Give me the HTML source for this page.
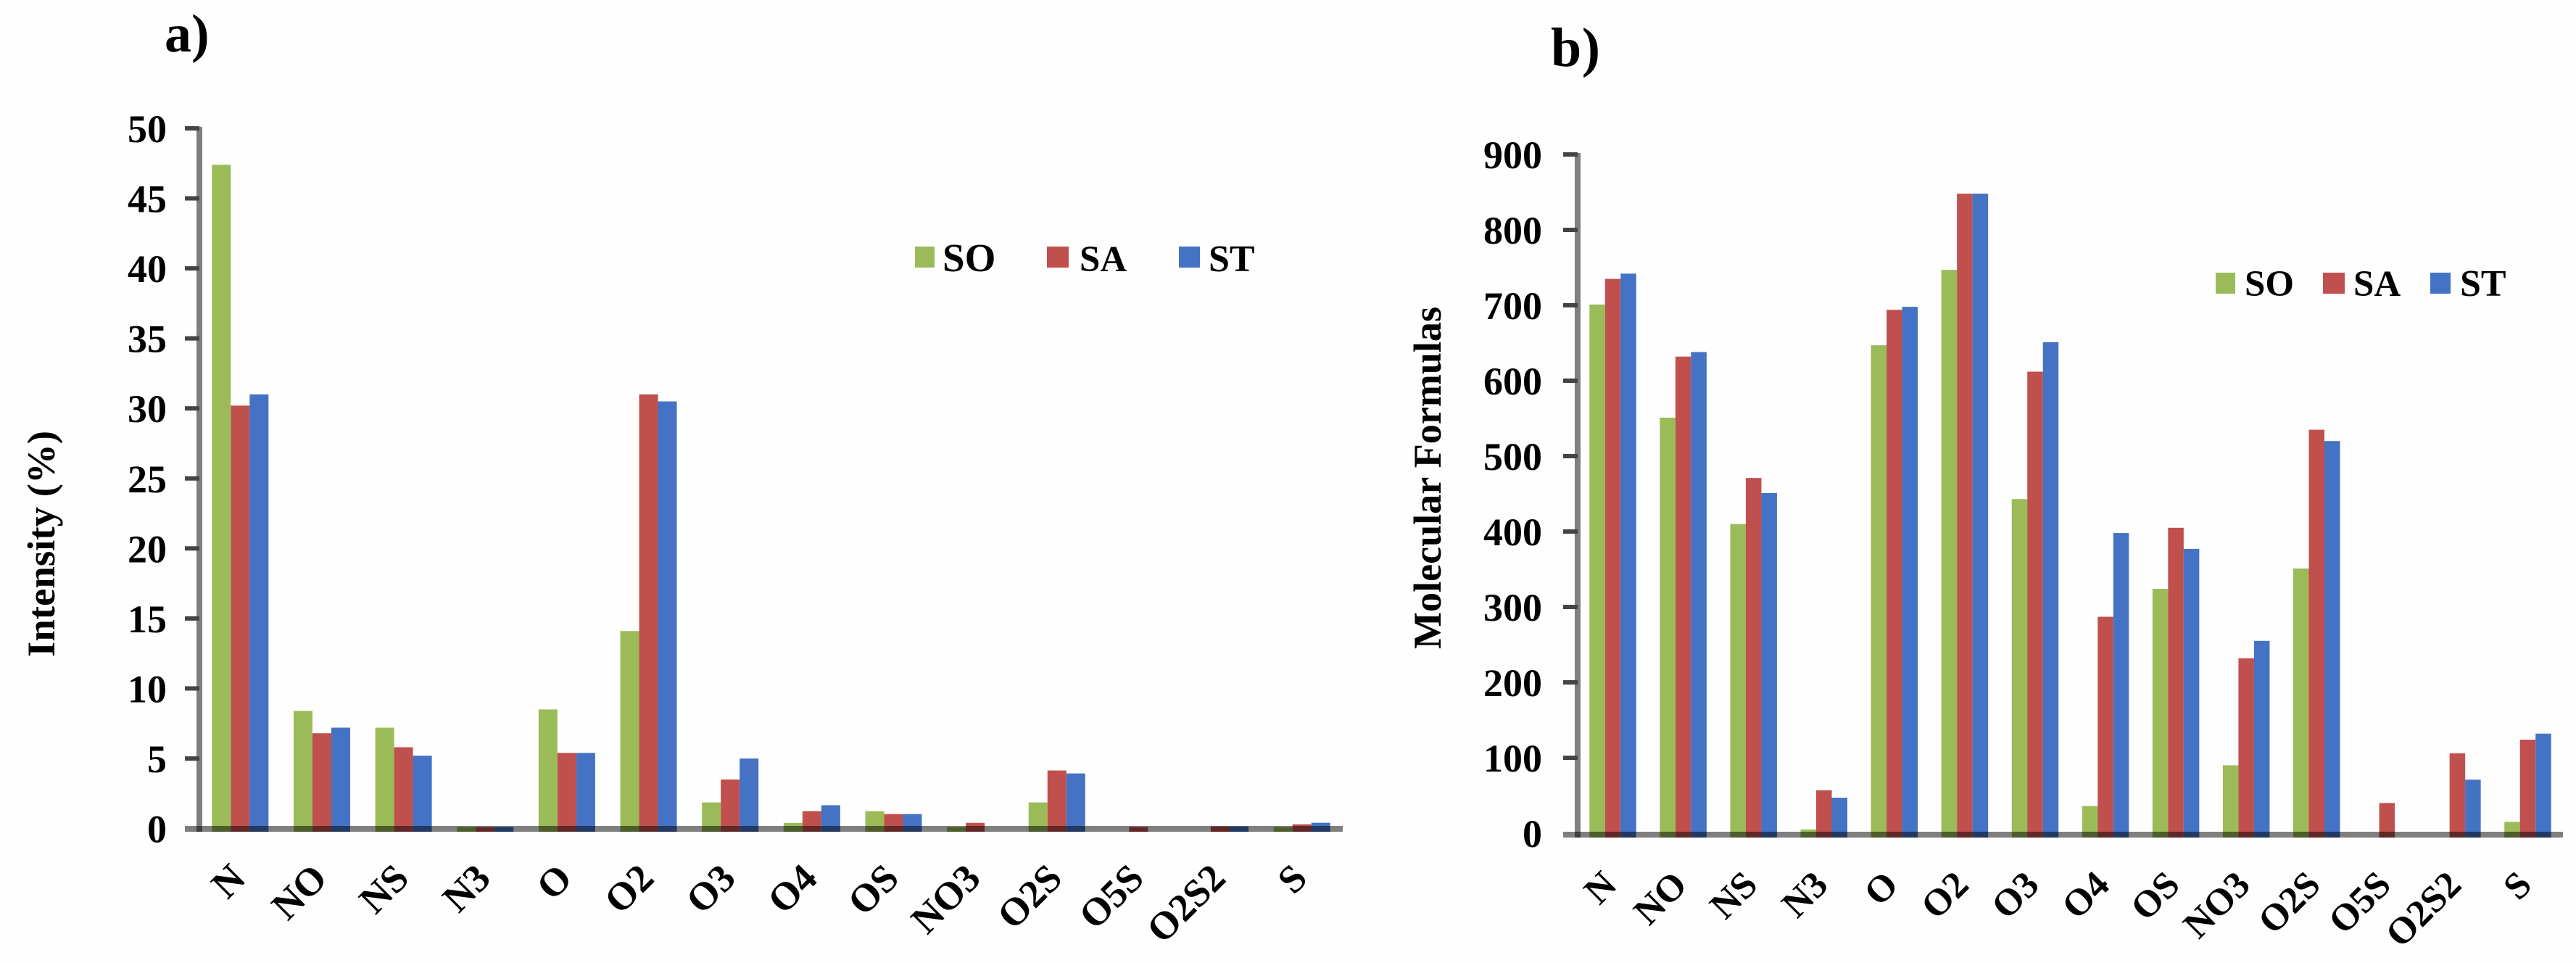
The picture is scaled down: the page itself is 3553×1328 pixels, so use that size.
<!DOCTYPE html>
<html lang="en">
<head>
<meta charset="utf-8">
<title>Intensity and molecular formulas by compound class</title>
<style>
html,body{margin:0;padding:0;background:#fefefe;}
#figure{display:block;width:3553px;height:1328px;}
text{font-family:"Liberation Serif","Times New Roman",serif;font-weight:bold;fill:#000;}
</style>
</head>
<body>
<svg id="figure" xmlns="http://www.w3.org/2000/svg" width="3553" height="1328" viewBox="0 0 3553 1328">
  <rect x="0" y="0" width="3553" height="1328" fill="#fefefe"/>
  <text x="227" y="71" font-size="74">a)</text>
  <text x="2139" y="91" font-size="76" textLength="68" lengthAdjust="spacing">b)</text>
  <text transform="translate(75 906) rotate(-90)" font-size="54" textLength="312" lengthAdjust="spacingAndGlyphs">Intensity (%)</text>
  <text transform="translate(1987 895) rotate(-90)" font-size="54" textLength="472" lengthAdjust="spacingAndGlyphs">Molecular Formulas</text>

  <g>
    <g>
      <rect x="1262" y="340" width="27" height="29" fill="#9BBB59"/>
      <text x="1300" y="374" font-size="55">SO</text>
    </g>
    <g>
      <rect x="1444" y="340" width="30" height="29" fill="#C0504D"/>
      <text x="1489" y="374" font-size="51">SA</text>
    </g>
    <g>
      <rect x="1626" y="340" width="29" height="29" fill="#4472C4"/>
      <text x="1667" y="374" font-size="52">ST</text>
    </g>
  </g>
  <g>
    <g>
      <rect x="3056" y="376" width="27" height="29" fill="#9BBB59"/>
      <text x="3096" y="408" font-size="51">SO</text>
    </g>
    <g>
      <rect x="3204" y="376" width="30" height="29" fill="#C0504D"/>
      <text x="3246" y="408" font-size="51">SA</text>
    </g>
    <g>
      <rect x="3352" y="376" width="28" height="29" fill="#4472C4"/>
      <text x="3393" y="408" font-size="52">ST</text>
    </g>
  </g>

  <g id="chart-a"></g>
  <g id="chart-b"></g>
</svg>

<script>
const categories = ['N','NO','NS','N3','O','O2','O3','O4','OS','NO3','O2S','O5S','O2S2','S'];
const seriesNames = ['SO','SA','ST'];

const intensitySO = [47.4, 8.4, 7.2, 0.1, 8.5, 14.1, 1.86, 0.4, 1.24, 0.1, 1.86, 0, 0, 0.1];
const intensitySA = [30.2, 6.8, 5.8, 0.1, 5.4, 31.0, 3.5, 1.24, 1.03, 0.4, 4.14, 0.1, 0.15, 0.3];
const intensityST = [31.0, 7.2, 5.2, 0.1, 5.4, 30.5, 5.0, 1.66, 1.03, 0, 3.93, 0, 0.15, 0.41];
const intensityTicks = [0,5,10,15,20,25,30,35,40,45,50];

const formulasSO = [701, 551, 410, 5, 647, 747, 443, 36, 324, 90, 351, 0, 0, 15];
const formulasSA = [735, 632, 471, 57, 694, 848, 612, 287, 405, 232, 535, 40, 106, 124];
const formulasST = [742, 638, 451, 47, 698, 848, 651, 398, 377, 255, 520, 0, 71, 132];
const formulasTicks = [0,100,200,300,400,500,600,700,800,900];

const seriesColors = ['#9BBB59','#C0504D','#4472C4'];
const SVG_NS = 'http://www.w3.org/2000/svg';

function drawChart(groupId, prefix, seriesValues, ticks, layout) {
  const group = document.getElementById(groupId);
  const yMax = ticks[ticks.length - 1];
  const yScale = function (v) { return layout.y0 - (layout.y0 - layout.yTop) * v / yMax; };
  const step = (layout.xEnd - layout.xAxis) / categories.length;
  const xCenter = function (i) { return layout.xAxis + step * (i + 0.5); };

  seriesValues.forEach(function (values, s) {
    values.forEach(function (v, i) {
      if (v <= 0) return;
      const bar = document.createElementNS(SVG_NS, 'rect');
      
      
      const top = yScale(v);
      bar.setAttribute('x', xCenter(i) + (s - 1.5) * layout.barWidth);
      bar.setAttribute('y', top);
      bar.setAttribute('width', layout.barWidth);
      bar.setAttribute('height', layout.base - top);
      bar.setAttribute('fill', seriesColors[s]);
      group.appendChild(bar);
    });
  });

  const yAxis = document.createElementNS(SVG_NS, 'rect');
  
  
  yAxis.setAttribute('x', layout.xAxis - 4);
  yAxis.setAttribute('y', layout.yTop - 2);
  yAxis.setAttribute('width', 8);
  yAxis.setAttribute('height', layout.base - layout.yTop + 2);
  yAxis.setAttribute('fill', 'rgba(0,0,0,0.5)');
  group.appendChild(yAxis);

  const xAxis = document.createElementNS(SVG_NS, 'rect');
  
  
  xAxis.setAttribute('x', layout.xAxis - 20);
  xAxis.setAttribute('y', layout.base - 8);
  xAxis.setAttribute('width', layout.xEnd - layout.xAxis + 20);
  xAxis.setAttribute('height', 8);
  xAxis.setAttribute('fill', 'rgba(0,0,0,0.5)');
  group.appendChild(xAxis);

  ticks.forEach(function (t) {
    const y = yScale(t);
    if (t !== 0) {
      const mark = document.createElementNS(SVG_NS, 'rect');
      
      
      mark.setAttribute('x', layout.xAxis - 20);
      mark.setAttribute('y', y - 3);
      mark.setAttribute('width', 20);
      mark.setAttribute('height', 6);
      mark.setAttribute('fill', '#444');
      group.appendChild(mark);
    }
    const label = document.createElementNS(SVG_NS, 'text');
    
    
    label.setAttribute('x', layout.labelRight);
    label.setAttribute('y', y + 19);
    label.setAttribute('text-anchor', 'end');
    label.setAttribute('font-size', 54);
    label.textContent = t;
    group.appendChild(label);
  });

  categories.forEach(function (c, i) {
    const ax = xCenter(i) + layout.catDx;
    const label = document.createElementNS(SVG_NS, 'text');
    
    
    label.setAttribute('transform', 'translate(' + ax + ' ' + layout.catY + ') rotate(-45)');
    label.setAttribute('text-anchor', 'end');
    label.setAttribute('font-size', layout.catSize);
    label.textContent = c;
    group.appendChild(label);
  });
}

drawChart('chart-a', 'a', [intensitySO, intensitySA, intensityST], intensityTicks, {
  xAxis: 275, xEnd: 1852, y0: 1142.5, yTop: 177, base: 1147,
  barWidth: 26, labelRight: 230, catDx: 10, catY: 1214, catSize: 54
});
drawChart('chart-b', 'b', [formulasSO, formulasSA, formulasST], formulasTicks, {
  xAxis: 2176, xEnd: 3535, y0: 1149, yTop: 213, base: 1155,
  barWidth: 21.5, labelRight: 2127, catDx: 8, catY: 1223, catSize: 52
});
</script>
</body>
</html>
